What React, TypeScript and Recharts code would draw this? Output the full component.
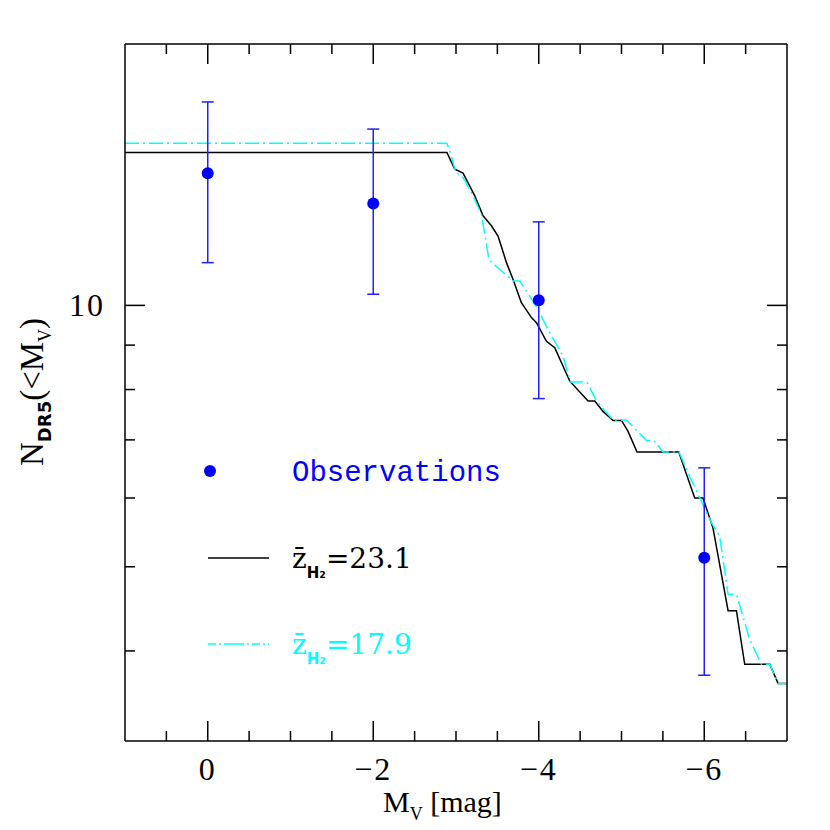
import { ComposedChart, Line, Scatter, ErrorBar, XAxis, YAxis } from 'recharts'

// M_V values and cumulative counts
const BLACK_MV = [1.0, -2.89, -2.985, -3.085, -3.227, -3.327, -3.428, -3.508, -3.61, -3.69, -3.79, -3.912, -3.972, -4.093, -4.193, -4.375, -4.596, -4.677, -4.777, -4.898, -5.0, -5.079, -5.188, -5.692, -5.885, -5.985, -6.106, -6.288, -6.389, -6.489, -6.792, -6.892, -7.0]
const BLACK_N = [15.0, 15.0, 14.35, 14.2, 13.37, 12.68, 12.35, 12.02, 11.2, 10.71, 10.07, 9.68, 9.55, 9.09, 8.94, 8.18, 7.76, 7.76, 7.55, 7.37, 7.37, 7.16, 6.78, 6.78, 6.0, 6.0, 5.54, 4.45, 4.45, 3.86, 3.86, 3.67, 3.67]

const CYAN_MV = [1.0, -2.89, -2.924, -2.997, -3.085, -3.206, -3.308, -3.399, -3.69, -3.77, -3.891, -3.992, -4.112, -4.294, -4.383, -4.584, -4.697, -4.898, -5.06, -5.301, -5.39, -5.502, -5.695, -5.825, -6.087, -6.187, -6.288, -6.389, -6.55, -6.691, -6.792, -6.892, -7.0]
const CYAN_N = [15.37, 15.37, 15.07, 14.23, 14.04, 13.37, 12.73, 11.28, 10.67, 10.67, 10.25, 9.89, 9.38, 8.74, 8.16, 8.16, 7.76, 7.38, 7.38, 6.99, 6.99, 6.78, 6.78, 6.35, 5.62, 5.42, 4.65, 4.65, 4.12, 3.86, 3.86, 3.67, 3.67]

const OBS_MV = [0, -2, -4, -6]
const OBS_N = [14.2, 13.1, 10.14, 5.12]
const OBS_LO = [11.2, 10.3, 7.81, 3.75]
const OBS_HI = [17.15, 15.96, 12.48, 6.5]

const X_TICKS = [0.5, 0, -0.5, -1, -1.5, -2, -2.5, -3, -3.5, -4, -4.5, -5, -5.5, -6, -6.5]
const X_LABELED = [0, -2, -4, -6]
const Y_TICKS = [4, 5, 6, 7, 8, 9, 10]
const Y_LABELED = [10]

const blackData = BLACK_MV.map((x, i) => ({ x, y: BLACK_N[i] }))
const cyanData = CYAN_MV.map((x, i) => ({ x, y: CYAN_N[i] }))
const obsData = OBS_MV.map((x, i) => ({
  x,
  y: OBS_N[i],
  err: [OBS_N[i] - OBS_LO[i], OBS_HI[i] - OBS_N[i]],
}))

const SERIF = '"Liberation Serif", "DejaVu Serif", serif'
const WIDE_SERIF = '"DejaVu Serif", serif'
const fmt = (v: number) => (v === 0 ? '0' : '\u2212' + Math.abs(v))

const BottomTick = (props: any) => {
  const { x, y, payload } = props
  const major = X_LABELED.includes(payload.value)
  return (
    <g>
      <line x1={x} y1={y} x2={x} y2={y - (major ? 20 : 10)} stroke="#000" strokeWidth={1.5} />
      {major && (
        <text x={x} y={y + 39} textAnchor="middle" fontFamily={SERIF} fontSize={32} letterSpacing={2} fill="#000">
          {fmt(payload.value)}
        </text>
      )}
    </g>
  )
}

const TopTick = (props: any) => {
  const { x, y, payload } = props
  const major = X_LABELED.includes(payload.value)
  return <line x1={x} y1={y} x2={x} y2={y + (major ? 20 : 10)} stroke="#000" strokeWidth={1.5} />
}

const LeftTick = (props: any) => {
  const { x, y, payload } = props
  const major = Y_LABELED.includes(payload.value)
  return (
    <g>
      <line x1={x} y1={y} x2={x + (major ? 20 : 10)} y2={y} stroke="#000" strokeWidth={1.5} />
      {major && (
        <text x={x - 20} y={y + 11} textAnchor="end" fontFamily={SERIF} fontSize={32} letterSpacing={2} fill="#000">
          {payload.value}
        </text>
      )}
    </g>
  )
}

const RightTick = (props: any) => {
  const { x, y, payload } = props
  const major = Y_LABELED.includes(payload.value)
  return <line x1={x} y1={y} x2={x - (major ? 20 : 10)} y2={y} stroke="#000" strokeWidth={1.5} />
}

const axisLine = { stroke: '#000', strokeWidth: 1.5 }

export default function App() {
  return (
    <div style={{ position: 'absolute', left: 0, top: 0, width: 830, height: 830, background: '#fff' }}>
      <ComposedChart width={830} height={830} margin={{ top: 0, right: 0, bottom: 0, left: 0 }}>
        <XAxis
          xAxisId="b"
          dataKey="x"
          type="number"
          domain={[-7, 1]}
          reversed
          allowDataOverflow
          orientation="bottom"
          height={89}
          ticks={X_TICKS}
          interval={0}
          tick={<BottomTick />}
          tickLine={false}
          tickSize={0}
          tickMargin={0}
          axisLine={axisLine}
        />
        <XAxis
          xAxisId="t"
          dataKey="x"
          type="number"
          domain={[-7, 1]}
          reversed
          allowDataOverflow
          orientation="top"
          height={44}
          ticks={X_TICKS}
          interval={0}
          tick={<TopTick />}
          tickLine={false}
          tickSize={0}
          tickMargin={0}
          axisLine={axisLine}
        />
        <YAxis
          yAxisId="l"
          type="number"
          scale="log"
          domain={[3.15, 20]}
          allowDataOverflow
          orientation="left"
          width={125}
          ticks={Y_TICKS}
          interval={0}
          tick={<LeftTick />}
          tickLine={false}
          tickSize={0}
          tickMargin={0}
          axisLine={axisLine}
        />
        <YAxis
          yAxisId="r"
          type="number"
          scale="log"
          domain={[3.15, 20]}
          allowDataOverflow
          orientation="right"
          width={43}
          ticks={Y_TICKS}
          interval={0}
          tick={<RightTick />}
          tickLine={false}
          tickSize={0}
          tickMargin={0}
          axisLine={axisLine}
        />
        <Line
          xAxisId="b"
          yAxisId="l"
          data={blackData}
          dataKey="y"
          type="linear"
          stroke="#000"
          strokeWidth={1.5}
          dot={false}
          isAnimationActive={false}
        />
        <Line
          xAxisId="b"
          yAxisId="l"
          data={cyanData}
          dataKey="y"
          type="linear"
          stroke="#00ffff"
          strokeWidth={1.5}
          strokeDasharray="14 4 2 4"
          dot={false}
          isAnimationActive={false}
        />
        <Scatter
          xAxisId="b"
          yAxisId="l"
          data={obsData}
          dataKey="y"
          fill="#0000ff"
          isAnimationActive={false}
          shape={(p: any) => <circle cx={p.cx} cy={p.cy} r={6} fill="#0000ff" />}
        >
          <ErrorBar dataKey="err" direction="y" width={6} stroke="#2020ff" strokeWidth={1.5} isAnimationActive={false} />
        </Scatter>
      </ComposedChart>

      <svg width={830} height={830} style={{ position: 'absolute', left: 0, top: 0, pointerEvents: 'none' }}>
        {/* axis titles */}
        <text x={383} y={812} fontFamily={SERIF} fontSize={30} fill="#000">
          M<tspan fontSize={18} dy={8}>V</tspan>
          <tspan dy={-8}> [mag]</tspan>
        </text>
        <text transform="translate(43,466) rotate(-90)" fontFamily={SERIF} fontSize={33} fill="#000">
          N<tspan fontSize={18} fontFamily='"DejaVu Sans", sans-serif' fontWeight="bold" dy={8}>DR5</tspan>
          <tspan dy={-8}>(&lt;M</tspan>
          <tspan fontSize={18} dy={8}>V</tspan>
          <tspan dy={-8}>)</tspan>
        </text>

        {/* legend */}
        <circle cx={210} cy={471} r={6} fill="#0000ff" />
        <text x={292} y={481} fontFamily='"Liberation Mono", monospace' fontSize={29} fill="#0000ff">
          Observations
        </text>

        <line x1={208} y1={558} x2={269} y2={558} stroke="#000" strokeWidth={1.5} />
        <text x={292} y={568} fontFamily={WIDE_SERIF} fontSize={28} fill="#000">
          {'z\u0304'}
          <tspan fontSize={15} fontFamily='"DejaVu Sans", sans-serif' fontWeight="bold" dy={10}>H₂</tspan>
          <tspan dy={-10}>=23.1</tspan>
        </text>

        <line x1={208} y1={644} x2={269} y2={644} stroke="#00ffff" strokeWidth={1.5} strokeDasharray="8 3 2 3 20 3 2 3" />
        <text x={292} y={654} fontFamily={WIDE_SERIF} fontSize={28} fill="#00ffff">
          {'z\u0304'}
          <tspan fontSize={15} fontFamily='"DejaVu Sans", sans-serif' fontWeight="bold" dy={10}>H₂</tspan>
          <tspan dy={-10}>=17.9</tspan>
        </text>
      </svg>
    </div>
  )
}
